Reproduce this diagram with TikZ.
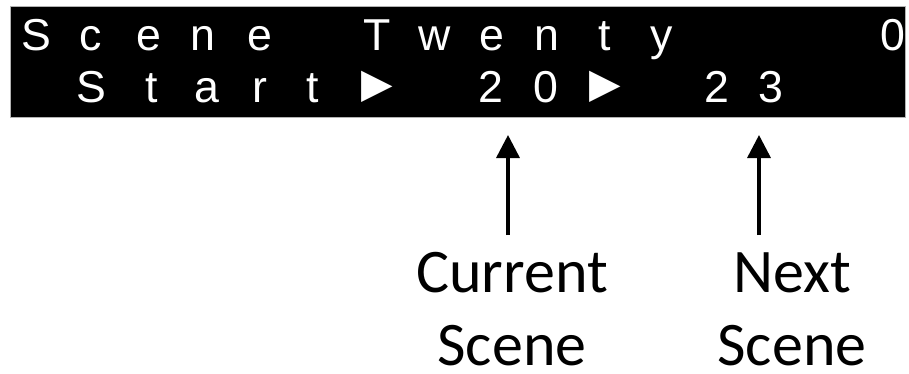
\documentclass[tikz,border=0pt]{standalone}
\usepackage{fontspec}
\setmainfont{Liberation Sans}
\newfontfamily\lblfont{Carlito}
\newfontfamily\symfont{DejaVu Sans}
\usetikzlibrary{arrows.meta}
\begin{document}
\begin{tikzpicture}[x=1pt,y=-1pt,
  lcd/.style={text=white,font=\fontsize{44.7}{50}\selectfont,anchor=base,inner sep=0pt},
  tri/.style={text=white,font=\symfont\fontsize{41}{42}\selectfont,anchor=center,inner sep=0pt},
  lbl/.style={font=\lblfont\fontsize{62}{73}\selectfont,align=center,anchor=base,inner sep=0pt},
  ptr/.style={line width=3.5pt,-{Triangle[width=23pt,length=23pt]}}]
\useasboundingbox (0,0) rectangle (909,373);
\node[fill=black,draw=gray!60,line width=1pt,minimum width=895pt,minimum height=111pt,inner sep=0pt,anchor=north west] (panel) at (10,6) {};
\foreach \c/\x [count=\i] in {S/36,c/91,e/149,n/203,e/260,T/377,w/435,e/492,n/547,t/605,y/662,0/893}
  \node[lcd] (top\i) at (\x,50) {\c};
\foreach \c/\x [count=\i] in {S/91,t/152,a/207,r/260,t/313,2/491,0/546,2/717,3/771}
  \node[lcd] (bot\i) at (\x,102) {\c};
\node[tri] (triA) at (377,87) {▶};
\node[tri] (triB) at (605,87) {▶};
\coordinate (curTip) at (508,135);
\coordinate (curTail) at (508,235);
\coordinate (nextTip) at (759,135);
\coordinate (nextTail) at (759,235);
\draw[ptr] (curTail) -- (curTip);
\draw[ptr] (nextTail) -- (nextTip);
\node[lbl] (cur) at (512,365) {Current\\Scene};
\node[lbl] (nxt) at (792,365) {Next\\Scene};
\end{tikzpicture}
\end{document}
